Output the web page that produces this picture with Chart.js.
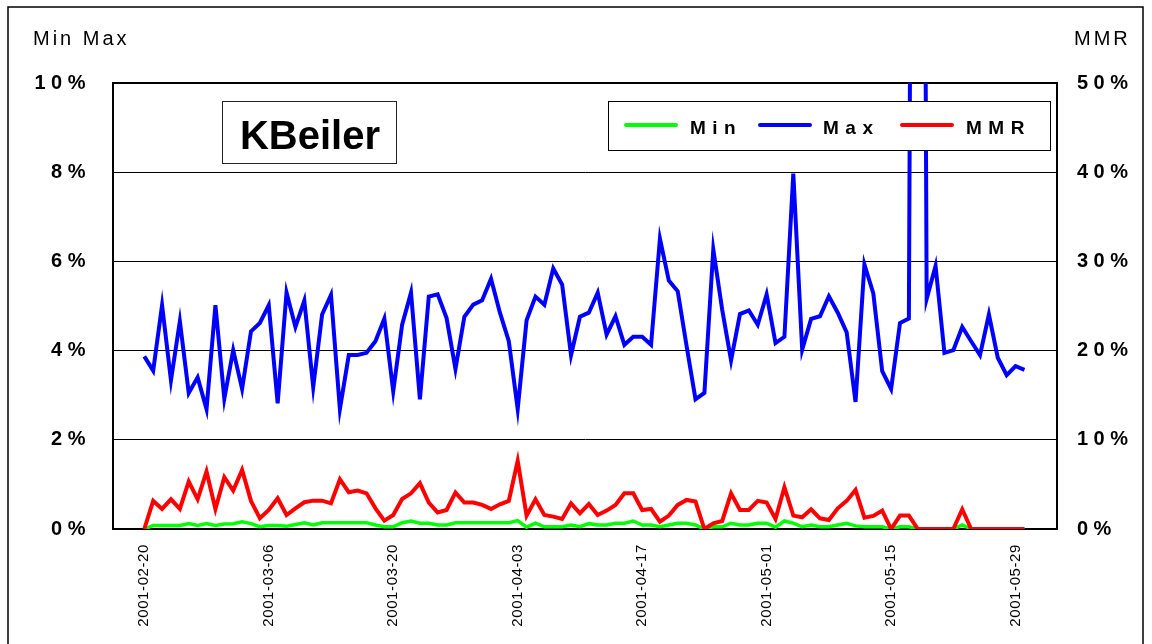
<!DOCTYPE html>
<html><head><meta charset="utf-8">
<script src="https://cdn.jsdelivr.net/npm/chart.js@4/dist/chart.umd.min.js"></script>
<style>html,body{margin:0;padding:0;background:#fff;}canvas{display:block}</style>
</head><body>
<canvas id="c" width="1152" height="644"></canvas>
<script>
// ---- data ----
const tickDays = [0, 14, 28, 42, 56, 70, 84, 98];
const tickLabels = ['2001-02-20','2001-03-06','2001-03-20','2001-04-03','2001-04-17','2001-05-01','2001-05-15','2001-05-29'];
const seriesNames = ['Min', 'Max', 'MMR'];
const seriesColors = ['#00FF00', '#0000FF', '#FF0000'];
const chartTitle = 'KBeiler';
const leftAxisTitle = 'Min Max';
const rightAxisTitle = 'MMR';

const maxValues = [
 3.87,3.55,5.02,3.33,4.66,3.05,3.40,2.69,5.02,2.92,
 4.01,3.14,4.43,4.62,5.02,2.82,5.30,4.53,5.12,3.18,
 4.81,5.25,2.69,3.90,3.90,3.95,4.21,4.72,3.09,4.58,
 5.30,2.91,5.21,5.26,4.73,3.59,4.76,5.03,5.13,5.61,
 4.85,4.21,2.69,4.68,5.21,5.03,5.84,5.48,3.90,4.76,
 4.85,5.30,4.36,4.77,4.13,4.31,4.31,4.13,6.51,5.57,
 5.33,4.10,2.91,3.05,6.27,4.92,3.78,4.82,4.90,4.58,
 5.26,4.17,4.31,7.97,4.02,4.71,4.77,5.22,4.85,4.41,
 2.85,5.93,5.28,3.54,3.14,4.62,4.72,50.0,5.16,5.90,
 3.95,4.01,4.53,4.21,3.90,4.81,3.84,3.45,3.65,3.57
];
const minValues = [
 0.00,0.08,0.08,0.08,0.08,0.12,0.08,0.12,0.08,0.11,
 0.12,0.16,0.12,0.05,0.08,0.08,0.06,0.10,0.14,0.09,
 0.14,0.14,0.14,0.14,0.14,0.14,0.09,0.05,0.05,0.14,
 0.18,0.13,0.13,0.09,0.09,0.14,0.14,0.14,0.14,0.14,
 0.14,0.14,0.19,0.04,0.13,0.05,0.05,0.05,0.09,0.05,
 0.12,0.09,0.09,0.13,0.13,0.18,0.09,0.09,0.05,0.09,
 0.13,0.13,0.09,0.00,0.05,0.05,0.13,0.09,0.09,0.13,
 0.13,0.04,0.18,0.13,0.05,0.09,0.05,0.05,0.09,0.13,
 0.07,0.05,0.05,0.05,0.00,0.05,0.05,0.00,0.00,0.00,
 0.00,0.00,0.09,0.00,0.00,0.00,0.00,0.00,0.00,0.00
];
const mmrValues = [
 0.00,3.15,2.25,3.33,2.25,5.32,3.33,6.44,2.25,5.81,
 4.31,6.63,3.15,1.20,2.13,3.45,1.57,2.32,3.00,3.18,
 3.18,2.88,5.58,4.12,4.31,4.00,2.32,0.94,1.57,3.37,
 4.00,5.13,2.96,1.85,2.13,4.08,2.96,2.96,2.70,2.25,
 2.77,3.15,7.64,1.50,3.33,1.57,1.39,1.12,2.88,1.76,
 2.80,1.57,2.06,2.70,4.00,4.00,2.13,2.25,0.82,1.50,
 2.70,3.26,3.07,0.00,0.64,0.90,4.00,2.13,2.13,3.15,
 2.96,1.12,4.68,1.50,1.31,2.21,1.20,1.01,2.32,3.15,
 4.38,1.27,1.46,2.06,0.00,1.50,1.50,0.00,0.00,0.00,
 0.00,0.00,2.21,0.00,0.00,0.00,0.00,0.00,0.00,0.00
];

const FONT = '"Liberation Sans", Arial, Helvetica, sans-serif';
const toPoints = arr => arr.map((v, i) => ({x: i, y: v}));

const deco = {
  id: 'deco',
  beforeDraw(chart) {
    const ctx = chart.ctx;
    ctx.save();
    ctx.fillStyle = '#fff';
    ctx.fillRect(0, 0, chart.width, chart.height);
    ctx.strokeStyle = '#000';
    ctx.lineWidth = 1.5;
    ctx.strokeRect(8, 7, 1135, 700);
    ctx.restore();
    ctx.letterSpacing = '0.6px';
  },
  afterDatasetsDraw(chart) {
    chart.ctx.letterSpacing = '5.5px';
  },
  afterDraw(chart) {
    const ctx = chart.ctx;
    ctx.save();
    // axis titles
    ctx.fillStyle = '#000';
    ctx.textBaseline = 'alphabetic';
    ctx.textAlign = 'left';
    ctx.font = '20px ' + FONT;
    ctx.letterSpacing = '3px';
    ctx.fillText(leftAxisTitle, 33, 45);
    ctx.fillText(rightAxisTitle, 1074, 45);
    // title box
    ctx.letterSpacing = '0px';
    ctx.fillStyle = '#fff';
    ctx.fillRect(222.5, 101.5, 174, 62);
    ctx.strokeStyle = '#222';
    ctx.lineWidth = 1;
    ctx.strokeRect(222.5, 101.5, 174, 62);
    ctx.fillStyle = '#000';
    ctx.font = 'bold 40px ' + FONT;
    ctx.textAlign = 'center';
    ctx.fillText(chartTitle, 310, 149);
    // legend box
    ctx.fillStyle = '#fff';
    ctx.fillRect(608.5, 101.5, 442, 49);
    ctx.strokeStyle = '#000';
    ctx.strokeRect(608.5, 101.5, 442, 49);
    const lineX = [626, 760, 902];
    const textX = [690, 823, 966];
    ctx.font = 'bold 19px ' + FONT;
    ctx.textAlign = 'left';
    ctx.letterSpacing = '6.5px';
    chart.data.datasets.forEach((ds, i) => {
      ctx.strokeStyle = ds.borderColor;
      ctx.lineWidth = 4;
      ctx.lineCap = 'round';
      ctx.beginPath();
      ctx.moveTo(lineX[i], 125);
      ctx.lineTo(lineX[i] + 50, 125);
      ctx.stroke();
      ctx.fillStyle = '#000';
      ctx.fillText(ds.label, textX[i], 134);
    });
    ctx.restore();
  }
};

new Chart(document.getElementById('c'), {
  type: 'line',
  data: {
    datasets: [
      {label: seriesNames[0], data: toPoints(minValues), borderColor: seriesColors[0], backgroundColor: seriesColors[0], borderWidth: 3.5, yAxisID: 'y', order: 3},
      {label: seriesNames[1], data: toPoints(maxValues), borderColor: seriesColors[1], backgroundColor: seriesColors[1], borderWidth: 4, yAxisID: 'y', order: 2},
      {label: seriesNames[2], data: toPoints(mmrValues), borderColor: seriesColors[2], backgroundColor: seriesColors[2], borderWidth: 4, yAxisID: 'y2', order: 1}
    ]
  },
  options: {
    responsive: false,
    animation: false,
    events: [],
    layout: {padding: {top: 83, left: 0, right: 0, bottom: 0}},
    elements: {
      point: {radius: 0, hoverRadius: 0},
      line: {tension: 0, fill: false, borderJoinStyle: 'miter'}
    },
    plugins: {legend: {display: false}, title: {display: false}, tooltip: {enabled: false}},
    scales: {
      x: {
        type: 'linear',
        min: -3.52,
        max: 102.66,
        afterFit: s => { s.height = 115; },
        afterBuildTicks: s => { s.ticks = tickDays.map(v => ({value: v})); },
        grid: {display: false, drawTicks: false},
        border: {display: true, color: '#000', width: 2},
        ticks: {
          autoSkip: false, maxRotation: 90, minRotation: 90, padding: 15,
          color: '#000', font: {family: FONT, size: 15},
          callback: v => { const k = tickDays.indexOf(v); return k >= 0 ? tickLabels[k] : ''; }
        }
      },
      y: {
        position: 'left',
        min: 0, max: 10,
        afterFit: s => { s.width = 113; },
        grid: {color: '#000', lineWidth: c => (c.tick && c.tick.value === 10 ? 2 : 1), drawTicks: false, z: 0},
        border: {display: true, color: '#000', width: 2},
        ticks: {stepSize: 2, padding: 22, z: 1, color: '#000', font: {family: FONT, size: 20, weight: 'bold'}, callback: v => v + '%'}
      },
      y2: {
        position: 'right',
        min: 0, max: 50,
        afterFit: s => { s.width = 95; },
        grid: {display: false, drawTicks: false},
        border: {display: true, color: '#000', width: 2},
        ticks: {stepSize: 10, padding: 20, z: 1, color: '#000', font: {family: FONT, size: 20, weight: 'bold'}, callback: v => v + '%'}
      }
    }
  },
  plugins: [deco]
});
</script>
</body></html>
